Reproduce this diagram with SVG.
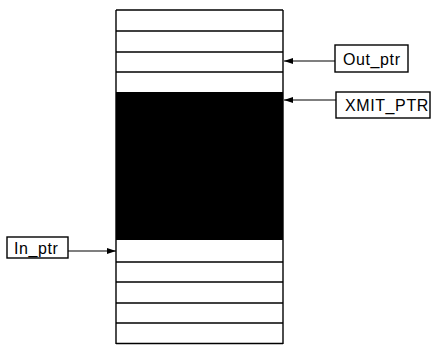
<svg xmlns="http://www.w3.org/2000/svg" width="433" height="345" viewBox="0 0 433 345">
<style>
.frame{fill:none;stroke:#000;stroke-width:1.5}
.row{stroke:#000;stroke-width:1.4}
.lbl{fill:#fff;stroke:#000;stroke-width:1.4}
.txt{font-family:"Liberation Sans",Arial,sans-serif;font-size:16px;fill:#000;letter-spacing:0.6px}
.conn{stroke:#000;stroke-width:1.2;fill:none;marker-end:url(#ah)}
</style>
<defs>
<marker id="ah" markerWidth="9" markerHeight="6" refX="9" refY="3" orient="auto" markerUnits="userSpaceOnUse">
<path d="M0,0 L9,3 L0,6 Z" fill="#000"/>
</marker>
</defs>
<rect width="433" height="345" fill="#fff"/>
<g id="buffer">
<rect x="116" y="92" width="167" height="148" fill="#000"/>
<line class="row" x1="116" y1="10" x2="283" y2="10"/>
<line class="row" x1="116" y1="31" x2="283" y2="31"/>
<line class="row" x1="116" y1="52" x2="283" y2="52"/>
<line class="row" x1="116" y1="72" x2="283" y2="72"/>
<line class="row" x1="116" y1="262" x2="283" y2="262"/>
<line class="row" x1="116" y1="282" x2="283" y2="282"/>
<line class="row" x1="116" y1="303" x2="283" y2="303"/>
<line class="row" x1="116" y1="323" x2="283" y2="323"/>
<line class="row" x1="116" y1="343.5" x2="283" y2="343.5"/>
<line class="row" x1="116" y1="10" x2="116" y2="344"/>
<line class="row" x1="283" y1="10" x2="283" y2="344"/>
</g>
<g id="out_ptr">
<rect class="lbl" x="335" y="45" width="73" height="27"/>
<text class="txt" x="343" y="64.5">Out_ptr</text>
</g>
<g id="xmit_ptr">
<rect class="lbl" x="336" y="92" width="94" height="26"/>
<text class="txt" x="345" y="111">XMIT_PTR</text>
</g>
<g id="in_ptr">
<rect class="lbl" x="7" y="237" width="61" height="21"/>
<text class="txt" x="14" y="253.5">In_ptr</text>
</g>
<g id="connectors">
<line class="conn" x1="335" y1="61" x2="284" y2="61"/>
<line class="conn" x1="336" y1="100" x2="284" y2="100"/>
<line class="conn" x1="68" y1="251" x2="116" y2="251"/>
</g>
</svg>
